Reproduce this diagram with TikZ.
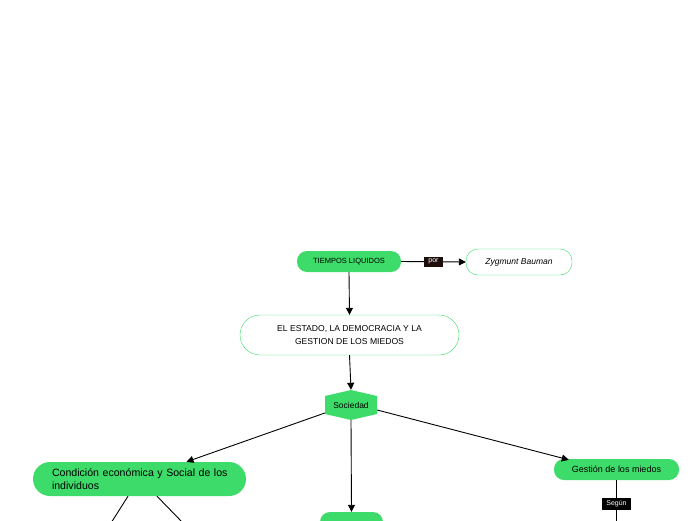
\documentclass[tikz,border=0pt]{standalone}
\usepackage{fontspec}
\setmainfont{Liberation Sans}
\usetikzlibrary{arrows.meta,calc,positioning}
\definecolor{mapgreen}{RGB}{61,220,106}
\definecolor{tagdark}{RGB}{30,14,10}

\begin{document}
\begin{tikzpicture}[x=1pt,y=-1pt,>={Triangle[width=7pt,length=7pt]},
  pill/.style={rectangle,rounded corners=10pt,fill=mapgreen,minimum height=21pt,
    inner sep=0pt,font=\fontsize{7.5}{9}\selectfont},
  outline/.style={rectangle,draw=mapgreen,fill=white,inner sep=0pt},
  tag/.style={fill=tagdark,text=white,inner xsep=4pt,inner ysep=2.5pt,
    font=\fontsize{7}{8}\selectfont},
  link/.style={black,line width=0.9pt}]
  \useasboundingbox (0,0) rectangle (696,520);
  \clip (0,0) rectangle (696,520);

  % top row
  \node[pill,minimum width=104pt] (tiempos) at (349,261.5) {TIEMPOS LIQUIDOS};
  \node[outline,rounded corners=12pt,minimum width=106pt,minimum height=26pt,
    font=\fontsize{8.5}{9}\selectfont\itshape] (bauman) at (519,262) {Zygmunt Bauman};
  \draw[link,->] (tiempos.east) -- node[tag] {por} (bauman.west);

  % main topic
  \node[outline,rounded corners=20pt,minimum width=219pt,minimum height=40pt,
    align=center,font=\fontsize{8.6}{13}\selectfont] (estado) at (349.5,335)
    {EL ESTADO, LA DEMOCRACIA Y LA\\GESTION DE LOS MIEDOS};
  \draw[link,->] (tiempos.south) -- (estado.north);

  % sociedad (hexagon)
  \coordinate (soc) at (351,405);
  \fill[mapgreen] ($(soc)+(-26,-9)$) -- ($(soc)+(0,-15)$) -- ($(soc)+(26,-9)$)
    -- ($(soc)+(26,9)$) -- ($(soc)+(0,15)$) -- ($(soc)+(-26,9)$) -- cycle;
  \node[minimum width=52pt,minimum height=30pt,inner sep=0pt,
    font=\fontsize{8.5}{9}\selectfont] (sociedad) at (soc) {Sociedad};
  \draw[link,->] (estado.south) -- (sociedad.north);

  % second level
  \node[pill,rounded corners=17pt,minimum width=213pt,minimum height=34pt,
    text width=175pt,inner xsep=19pt,align=left,font=\fontsize{10.6}{12.5}\selectfont]
    (condicion) at (139.5,479)
    {\makebox[175pt][l]{Condición económica y Social de los}\\individuos};
  \node[pill,minimum width=125pt,font=\fontsize{9}{10}\selectfont] (gestion)
    at (616.5,469.5) {Gestión de los miedos};
  \node[pill,minimum width=63pt,minimum height=30pt] (estadonode) at (351.5,527) {};

  \draw[link,->] ($(sociedad.west)+(0,8)$) -- ($(condicion.north)+(47,0)$);
  \draw[link,->] (sociedad.south) -- (estadonode.north);
  \draw[link,->] ($(sociedad.east)+(0,5)$) -- ($(gestion.north west)+(15,1)$);

  % branches leaving the frame
  \coordinate (condleft) at (111,523);
  \coordinate (condright) at (183,523);
  \coordinate (gestdown) at (616.5,523);
  \draw[link] ($(condicion.south)+(-11.5,0)$) -- (condleft);
  \draw[link] ($(condicion.south)+(17.5,0)$) -- (condright);
  \draw[link] (gestion.south) -- node[tag,fill=black,pos=0.55] {Según} (gestdown);
\end{tikzpicture}
\end{document}
